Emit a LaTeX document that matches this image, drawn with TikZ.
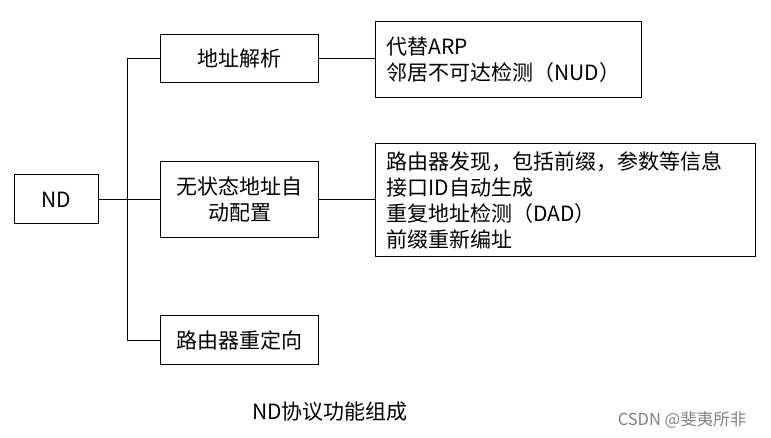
\documentclass[tikz,border=0pt]{standalone}
\usepackage{fontspec}
\setmainfont{Noto Sans CJK SC}
\usetikzlibrary{positioning}

\tikzset{
  box/.style = {draw=black, line width=1pt, inner sep=0pt, align=center},
  listbox/.style = {draw=black, line width=1pt, inner xsep=11pt, inner ysep=0pt,
    align=left, anchor=north west},
}

\begin{document}
\begin{tikzpicture}[x=1pt, y=-1pt, nodes = {font=\fontsize{21}{26}\selectfont},
    line width=1pt]
  \useasboundingbox (0,0) rectangle (771,438);

  % left column
  \node[box, minimum width=84pt, minimum height=49pt] (nd) at (56.5,199.5) {ND};
  \node[box, minimum width=158pt, minimum height=48pt] (addr) at (239.5,58.7) {地址解析};
  \node[box, minimum width=158pt, minimum height=76pt] (stateless) at (239.5,199.5)
    {无状态地址自\\动配置};
  \node[box, minimum width=158pt, minimum height=49pt] (redir) at (239.5,340) {路由器重定向};

  % right column
  \node[listbox, text width=244pt, minimum height=76pt] (arp) at (375,21.5)
    {代替ARP\\邻居不可达检测（NUD）};
  \node[listbox, text width=358pt, minimum height=113pt] (slaac) at (375,143)
    {路由器发现，包括前缀，参数等信息\\接口ID自动生成\\重复地址检测（DAD）\\前缀重新编址};

  % connectors
  \coordinate (trunk) at (127,0);
  \draw (addr.west) -- (addr.west -| trunk) |- (redir.west);
  \draw (nd.east) -- (stateless.west);
  \draw (addr.east) -- (addr.east -| arp.west);
  \draw (stateless.east) -- (stateless.east -| slaac.west);

  % caption and mark
  \node (caption) at (330,412) {ND协议功能组成};
  \node[text=gray, font=\fontsize{16.5}{18}\selectfont] (mark) at (682,420) {CSDN @斐夷所非};
\end{tikzpicture}
\end{document}
